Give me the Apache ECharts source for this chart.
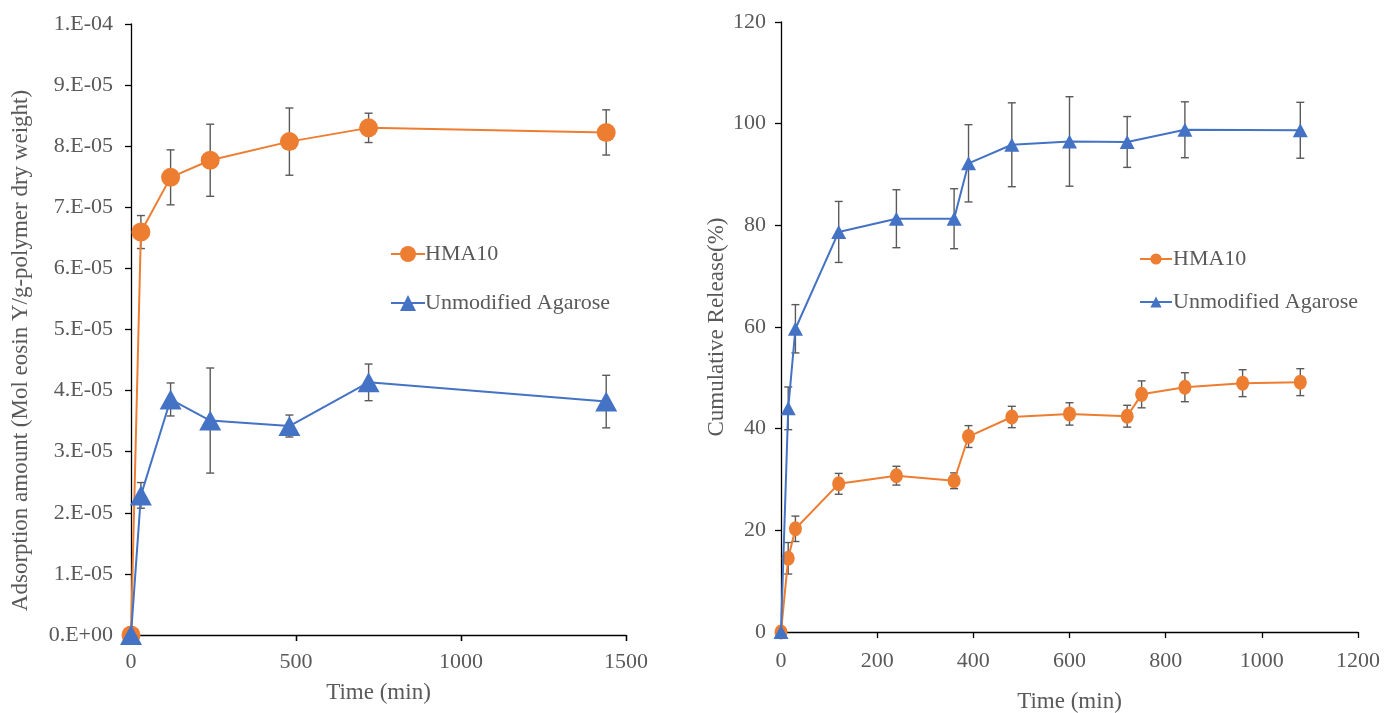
<!DOCTYPE html>
<html>
<head>
<meta charset="utf-8">
<script src="https://cdn.jsdelivr.net/npm/echarts@6/dist/echarts.min.js"></script>
<style>html,body{margin:0;padding:0;background:#fff}#c{width:1384px;height:713px}</style>
</head>
<body>
<div id="c"></div>
<script>
// ---- Left chart: adsorption ----
const leftTimes = [0, 30, 120, 240, 480, 720, 1440];
const leftHMA = [0, 6.595e-5, 7.49e-5, 7.77e-5, 8.075e-5, 8.30e-5, 8.225e-5];
const leftHMAErr = [0, 0.27e-5, 0.45e-5, 0.59e-5, 0.55e-5, 0.24e-5, 0.37e-5];
const leftAga = [0, 2.285e-5, 3.855e-5, 3.51e-5, 3.42e-5, 4.135e-5, 3.82e-5];
const leftAgaErr = [0, 0.21e-5, 0.27e-5, 0.86e-5, 0.18e-5, 0.30e-5, 0.43e-5];

// ---- Right chart: cumulative release ----
const rightHMATimes = [0, 15, 30, 120, 240, 360, 390, 480, 600, 720, 750, 840, 960, 1080];
const rightHMA = [0, 14.5, 20.3, 29.15, 30.75, 29.75, 38.45, 42.3, 42.9, 42.45, 46.75, 48.15, 48.95, 49.15];
const rightHMAErr = [0, 3.1, 2.5, 2.05, 1.85, 1.55, 2.15, 2.1, 2.2, 2.15, 2.65, 2.85, 2.65, 2.65];
const rightAgaTimes = [0, 15, 30, 120, 240, 360, 390, 480, 600, 720, 840, 1080];
const rightAga = [0, 44.0, 59.65, 78.7, 81.3, 81.3, 92.2, 95.85, 96.5, 96.4, 98.8, 98.7];
const rightAgaErr = [0, 4.2, 4.75, 6.0, 5.7, 5.9, 7.6, 8.25, 8.8, 5.0, 5.5, 5.5];

const seriesNames = ['HMA10', 'Unmodified Agarose'];
const colors = ['#ED7D31', '#4472C4'];
const textColor = '#595959';
const fontFam = '"Liberation Serif", "DejaVu Serif", serif';

function pairs(xs, ys) { return xs.map((x, i) => [x, ys[i]]); }
function errData(xs, ys, es) {
  const out = [];
  xs.forEach((x, i) => { if (es[i] > 0) out.push([x, ys[i] - es[i], ys[i] + es[i]]); });
  return out;
}
function errRender(params, api) {
  const x = api.value(0), lo = api.value(1), hi = api.value(2);
  const p1 = api.coord([x, hi]), p2 = api.coord([x, lo]);
  const w = 4;
  const st = { stroke: '#5a5a5a', lineWidth: 1.4 };
  return {
    type: 'group',
    children: [
      { type: 'line', shape: { x1: p1[0], y1: p1[1], x2: p2[0], y2: p2[1] }, style: st },
      { type: 'line', shape: { x1: p1[0] - w, y1: p1[1], x2: p1[0] + w, y2: p1[1] }, style: st },
      { type: 'line', shape: { x1: p2[0] - w, y1: p2[1], x2: p2[0] + w, y2: p2[1] }, style: st }
    ]
  };
}
function sci(v) {
  if (Math.abs(v) < 1e-12) return '0.E+00';
  const e = Math.floor(Math.log10(v) + 1e-9);
  const m = Math.round(v / Math.pow(10, e));
  const es = e < 0 ? '-' + String(-e).padStart(2, '0') : '+' + String(e).padStart(2, '0');
  return m + '.E' + es;
}
function plain(v) { return String(Math.round(v)); }

const axisLineStyle = { color: '#000', width: 1.3 };
const labelStyle = { color: textColor, fontFamily: fontFam, fontSize: 22 };
const nameStyle = { color: textColor, fontFamily: fontFam, fontSize: 23 };

const chart = echarts.init(document.getElementById('c'), null, { renderer: 'canvas' });
chart.setOption({
  backgroundColor: '#fff',
  animation: false,
  textStyle: { fontFamily: fontFam },
  grid: [
    { left: 131, right: 758, top: 24, bottom: 78, containLabel: false, outerBoundsMode: 'none' },
    { left: 781, right: 26, top: 22, bottom: 81, containLabel: false, outerBoundsMode: 'none' }
  ],
  legend: [
    { data: seriesNames, orient: 'vertical', left: 385, top: 238, itemGap: 27, itemWidth: 34, itemHeight: 20,
      textStyle: { color: textColor, fontFamily: fontFam, fontSize: 22, padding: [0, 0, 0, -5] } },
    { data: seriesNames, orient: 'vertical', left: 1134, top: 243, itemGap: 21, itemWidth: 32, itemHeight: 14,
      textStyle: { color: textColor, fontFamily: fontFam, fontSize: 22, padding: [0, 0, 0, -4] } }
  ],
  xAxis: [
    { gridIndex: 0, type: 'value', min: 0, max: 1500, interval: 500,
      name: 'Time (min)', nameLocation: 'middle', nameGap: 46, nameTextStyle: nameStyle,
      axisLine: { show: true, onZero: false, lineStyle: axisLineStyle },
      axisTick: { show: true, length: 6, lineStyle: axisLineStyle },
      axisLabel: Object.assign({ margin: 16, formatter: plain }, labelStyle), splitLine: { show: false } },
    { gridIndex: 1, type: 'value', min: 0, max: 1200, interval: 200,
      name: 'Time (min)', nameLocation: 'middle', nameGap: 58, nameTextStyle: nameStyle,
      axisLine: { show: true, onZero: false, lineStyle: axisLineStyle },
      axisTick: { show: true, length: 6, lineStyle: axisLineStyle },
      axisLabel: Object.assign({ margin: 18, formatter: plain }, labelStyle), splitLine: { show: false } },
    { gridIndex: 0, type: 'value', min: 0, max: 1500, interval: 500,
      axisLine: { show: false }, axisLabel: { show: false }, splitLine: { show: false },
      axisTick: { show: true, inside: true, length: 6, lineStyle: axisLineStyle } }
  ],
  yAxis: [
    { gridIndex: 0, type: 'value', min: 0, max: 1e-4, interval: 1e-5,
      name: 'Adsorption amount (Mol eosin Y/g-polymer dry weight)', nameLocation: 'middle', nameGap: 99,
      nameTextStyle: Object.assign({ padding: [0, 42, 0, 0] }, nameStyle),
      axisLine: { show: true, onZero: false, lineStyle: axisLineStyle },
      axisTick: { show: true, length: 6, lineStyle: axisLineStyle },
      axisLabel: Object.assign({ margin: 18, formatter: sci }, labelStyle), splitLine: { show: false } },
    { gridIndex: 1, type: 'value', min: 0, max: 120, interval: 20,
      name: 'Cumulative Release(%)', nameLocation: 'middle', nameGap: 53, nameTextStyle: nameStyle,
      axisLine: { show: true, onZero: false, lineStyle: axisLineStyle },
      axisTick: { show: true, length: 6, lineStyle: axisLineStyle },
      axisLabel: Object.assign({ margin: 15 }, labelStyle), splitLine: { show: false } }
  ],
  series: [
    { type: 'custom', name: 'errL1', xAxisIndex: 0, yAxisIndex: 0, z: 1, renderItem: errRender,
      data: errData(leftTimes, leftHMA, leftHMAErr), encode: { x: 0, y: [1, 2] } },
    { type: 'custom', name: 'errL2', xAxisIndex: 0, yAxisIndex: 0, z: 1, renderItem: errRender,
      data: errData(leftTimes, leftAga, leftAgaErr), encode: { x: 0, y: [1, 2] } },
    { type: 'line', name: seriesNames[0], xAxisIndex: 0, yAxisIndex: 0, z: 3,
      data: pairs(leftTimes, leftHMA), symbol: 'circle', symbolSize: 19,
      itemStyle: { color: colors[0] }, lineStyle: { color: colors[0], width: 2 } },
    { type: 'line', name: seriesNames[1], xAxisIndex: 0, yAxisIndex: 0, z: 4,
      data: pairs(leftTimes, leftAga), symbol: 'triangle', symbolSize: [22, 20],
      itemStyle: { color: colors[1] }, lineStyle: { color: colors[1], width: 2 } },
    { type: 'custom', name: 'errR1', xAxisIndex: 1, yAxisIndex: 1, z: 1, renderItem: errRender,
      data: errData(rightHMATimes, rightHMA, rightHMAErr), encode: { x: 0, y: [1, 2] } },
    { type: 'custom', name: 'errR2', xAxisIndex: 1, yAxisIndex: 1, z: 1, renderItem: errRender,
      data: errData(rightAgaTimes, rightAga, rightAgaErr), encode: { x: 0, y: [1, 2] } },
    { type: 'line', name: seriesNames[0], xAxisIndex: 1, yAxisIndex: 1, z: 3,
      data: pairs(rightHMATimes, rightHMA), symbol: 'circle', symbolSize: [13, 15],
      itemStyle: { color: colors[0] }, lineStyle: { color: colors[0], width: 2 } },
    { type: 'line', name: seriesNames[1], xAxisIndex: 1, yAxisIndex: 1, z: 4,
      data: pairs(rightAgaTimes, rightAga), symbol: 'triangle', symbolSize: [15, 14],
      itemStyle: { color: colors[1] }, lineStyle: { color: colors[1], width: 2 } }
  ]
});
</script>
</body>
</html>
